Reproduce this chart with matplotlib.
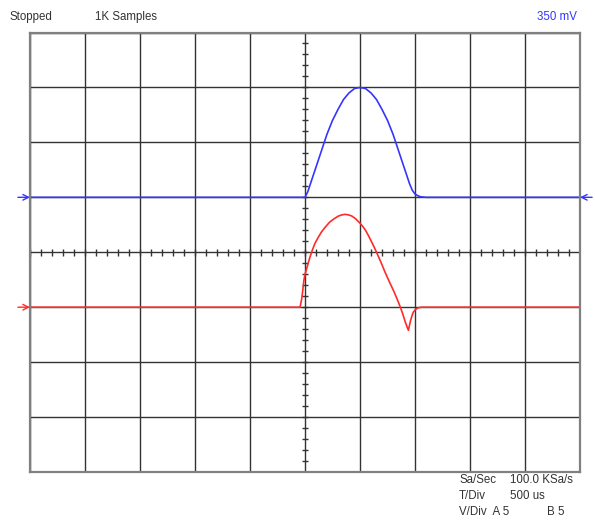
import numpy as np
import matplotlib.pyplot as plt

# channel A trace (divisions)
blue_t = [-5.0, 0.0, 0.05, 0.1, 0.15, 0.2, 0.3, 0.4, 0.5, 0.6, 0.7, 0.8, 0.9, 1.0,
          1.1, 1.2, 1.3, 1.4, 1.5, 1.6, 1.7, 1.8, 1.85, 1.9, 1.95, 2.0, 2.05, 2.1, 2.2, 5.0]
blue_v = [1.0, 1.0, 1.10, 1.25, 1.40, 1.55, 1.85, 2.15, 2.40, 2.60, 2.78, 2.90, 2.98, 3.0,
          2.98, 2.90, 2.78, 2.60, 2.40, 2.15, 1.85, 1.55, 1.40, 1.25, 1.13, 1.06, 1.03, 1.01, 1.0, 1.0]

# channel B trace
red_t = [-5.0, -0.09, -0.06, -0.04, -0.02, 0.0, 0.03, 0.06, 0.09, 0.13, 0.18, 0.24,
         0.30, 0.37, 0.45, 0.53, 0.61, 0.67, 0.73, 0.79, 0.85, 0.92, 1.0, 1.05,
         1.10, 1.15, 1.20, 1.25, 1.30, 1.38, 1.45, 1.53, 1.61, 1.67, 1.73, 1.78, 1.82, 1.86,
         1.88, 1.90, 1.92, 1.95, 1.97, 2.01, 2.06, 2.12, 5.0]
red_v = [-1.0, -1.0, -0.85, -0.69, -0.51, -0.40, -0.30, -0.19, -0.09, 0.03, 0.16, 0.27,
         0.37, 0.46, 0.55, 0.61, 0.66, 0.68, 0.69, 0.68, 0.66, 0.61, 0.53, 0.47,
         0.40, 0.31, 0.21, 0.11, 0.0, -0.18, -0.35, -0.53, -0.70, -0.84, -0.99, -1.13, -1.26, -1.37,
         -1.42, -1.33, -1.24, -1.14, -1.09, -1.04, -1.01, -1.0, -1.0]

W, H = 595, 522
fig = plt.figure(figsize=(W / 100, H / 100), dpi=100)
ax = fig.add_axes([30 / W, 1 - 472 / H, 550 / W, 439.5 / H])
ax.set_xlim(-5, 5)
ax.set_ylim(-4, 4)
ax.set_xticks(range(-5, 6))
ax.set_yticks(range(-4, 5))
ax.tick_params(length=0, labelbottom=False, labelleft=False)
ax.grid(True, color='#333333', lw=1.0)
for s in ax.spines.values():
    s.set_color('#808080')
    s.set_linewidth(1.6)

# minor ticks on the centre lines
minor = np.arange(-5, 5.01, 0.2)
ax.vlines(minor, -0.06, 0.06, color='#333333', lw=1.0)
ax.hlines(np.arange(-4, 4.01, 0.2), -0.06, 0.06, color='#333333', lw=1.0)

ax.plot(blue_t, blue_v, color='#3535ff', lw=1.2)
ax.plot(red_t, red_v, color='#ff2a2a', lw=1.2)

# channel markers
arrow = dict(arrowstyle='->', lw=1.0, shrinkA=0, shrinkB=0)
ax.annotate('', xy=(-5.0, 1.0), xytext=(-5.22, 1.0),
            arrowprops=dict(arrow, color='#3535ff'), annotation_clip=False)
ax.annotate('', xy=(-5.0, -1.0), xytext=(-5.22, -1.0),
            arrowprops=dict(arrow, color='#ff2a2a'), annotation_clip=False)
ax.annotate('', xy=(5.0, 1.0), xytext=(5.22, 1.0),
            arrowprops=dict(arrow, color='#3535ff'), annotation_clip=False)

fs = 8.3
fam = 'Liberation Sans'
def txt(x, y, s, **kw):
    fig.text(x / W, 1 - y / H, s, fontsize=fs, family=fam, va='center', **kw)

txt(10, 17, 'Stopped', color='#333333')
txt(95, 17, '1K Samples', color='#333333')
txt(577, 17, '350 mV', color='#3535ff', ha='right')
txt(459, 480, 'Sa/Sec', color='#333333')
txt(510, 480, '100.0 KSa/s', color='#333333')
txt(459, 496, 'T/Div', color='#333333')
txt(510, 496, '500 us', color='#333333')
txt(459, 512, 'V/Div  A 5', color='#333333')
txt(547, 512, 'B 5', color='#333333')

fig.savefig('out.png', dpi=100)
